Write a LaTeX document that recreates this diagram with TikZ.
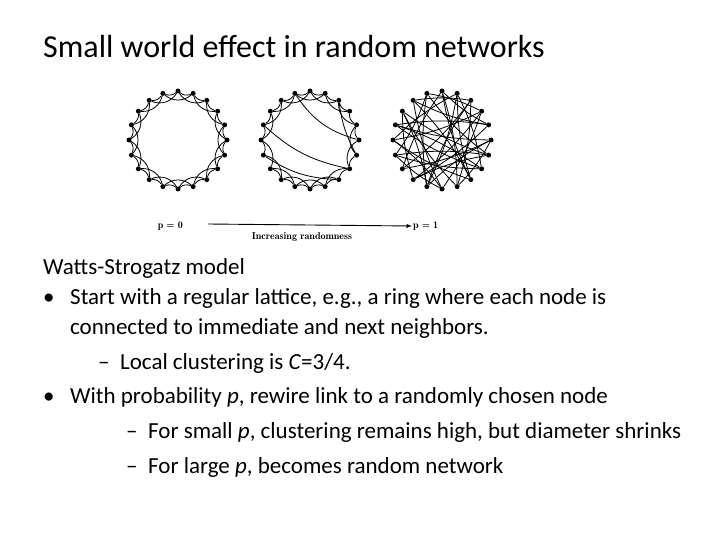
\documentclass[tikz,border=0pt]{standalone}
\usepackage{fontspec}
\setmainfont{Carlito}
\begin{document}
\begin{tikzpicture}[x=1pt,y=-1pt,
 dot/.style={circle,fill=black,inner sep=0pt,minimum size=5pt},
 ed/.style={line width=0.8pt},
 body/.style={anchor=base west,inner sep=0pt,font=\fontsize{23}{27}\selectfont},
 lab/.style={font=\fontfamily{lmr}\bfseries\fontsize{10}{11}\selectfont,inner sep=1pt}]
\useasboundingbox (0,0) rectangle (720,540);
\node[anchor=base west,inner sep=0pt,font=\fontsize{32}{36}\selectfont] (title) at (43,58) {Small world effect in random networks};
% rings
\foreach \r/\cx in {a/178,b/310,c/442}{
 \foreach \i in {0,...,19}{
  \node[dot] (\r\i) at ({\cx+49*cos(90+18*\i)},{140-49*sin(90+18*\i)}) {};
 }}
% ring a regular
\foreach \i in {0,...,19}{
 \pgfmathtruncatemacro\j{mod(\i+1,20)}
 \pgfmathtruncatemacro\k{mod(\i+2,20)}
 \draw[ed] (a\i) to[bend left=30] (a\j);
 \draw[ed] (a\i) to[bend left=40] (a\k);
}
% ring b: mostly regular with rewires
\foreach \i in {0,1,2,3,4,5,7,8,9,10,11,12,13,15,16,17,18,19}{
 \pgfmathtruncatemacro\j{mod(\i+1,20)}
 \draw[ed] (b\i) to[bend left=30] (b\j);
}
\foreach \i in {0,1,2,3,5,6,7,8,9,10,11,13,14,16,17,18,19}{
 \pgfmathtruncatemacro\k{mod(\i+2,20)}
 \draw[ed] (b\i) to[bend left=40] (b\k);
}
\draw[ed] (b4) to[bend right=15] (b13);
\draw[ed] (b6) to[bend right=15] (b12);
\draw[ed] (b14) to[bend left=10] (b18);
\draw[ed] (b15) to[bend left=20] (b1);
% ring c: random
\foreach \p/\q in {0/7,0/12,1/9,1/14,2/10,2/16,3/11,3/8,4/15,4/13,5/12,5/17,6/13,6/1,7/18,7/15,8/16,9/19,9/3,10/17,
 10/5,11/0,11/18,12/2,13/19,14/6,14/8,15/9,16/4,17/1,18/2,19/5,19/12,0/16,3/14,6/10,8/17,11/15,13/4,18/9}{
 \draw[ed] (c\p) to[bend right=8] (c\q);
}
\node[lab,anchor=east] (p0) at (184,226) {p = 0};
\node[lab,anchor=west] (p1) at (412,226) {p = 1};
\draw[line width=0.9pt,-latex] (208,224) -- (p1.west);
\node[lab] (inc) at (302,237) {Increasing randomness};
% text
\node[body] (t1) at (43,274) {Watts-Strogatz model};
\node[body] (b1t) at (43,304) {\textbullet};
\node[body] (t2) at (70,304) {Start with a regular lattice, e.g., a ring where each node is};
\node[body] (t3) at (70,334) {connected to immediate and next neighbors.};
\node[body] (d1) at (98,369) {--};
\node[body] (t4) at (120,369) {Local clustering is \textit{C}=3/4.};
\node[body] (b2t) at (43,403) {\textbullet};
\node[body] (t5) at (70,403) {With probability \textit{p}, rewire link to a randomly chosen node};
\node[body] (d2) at (126,438) {--};
\node[body] (t6) at (148,438) {For small \textit{p}, clustering remains high, but diameter shrinks};
\node[body] (d3) at (126,473) {--};
\node[body] (t7) at (148,473) {For large \textit{p}, becomes random network};
\end{tikzpicture}
\end{document}
